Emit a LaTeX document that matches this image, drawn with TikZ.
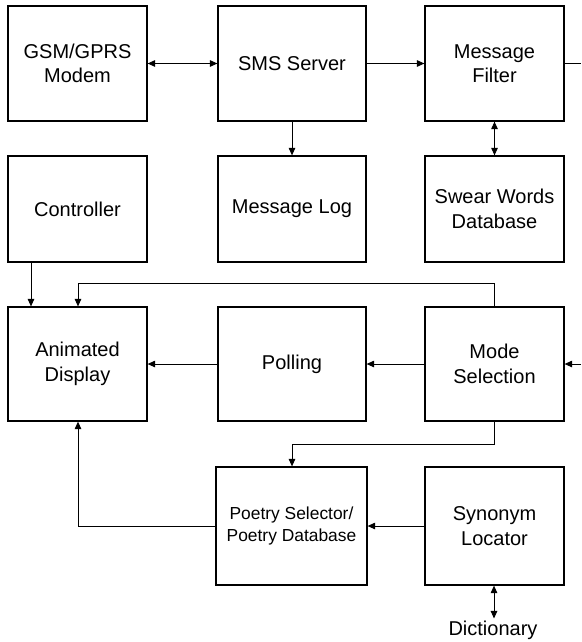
\documentclass[tikz,border=0pt]{standalone}
\usepackage{fontspec}
\setmainfont{Liberation Sans}
\usetikzlibrary{arrows.meta,calc}
\begin{document}
\begin{tikzpicture}[x=1pt,y=-1pt,
  blk/.style={draw,line width=1.2pt,align=center,inner sep=0pt,font=\fontsize{20}{24.5}\selectfont},
  conn/.style={line width=1pt},
  tip/.style={-{Triangle[length=7.5pt,width=6.5pt]}},
  dtip/.style={{Triangle[length=7.5pt,width=6.5pt]}-{Triangle[length=7.5pt,width=6.5pt]}}]
\useasboundingbox (0,0) rectangle (581,642);
% row 1
\node[blk,minimum width=139,minimum height=115] (gsm) at (77.5,63.5) {GSM/GPRS\\Modem};
\node[blk,minimum width=148,minimum height=115] (sms) at (292,63.5) {SMS Server};
\node[blk,minimum width=139,minimum height=115] (filt) at (494.5,63.5) {Message\\Filter};
% row 2
\node[blk,minimum width=139,minimum height=106] (ctrl) at (77.5,209) {Controller};
\node[blk,minimum width=148,minimum height=106] (log) at (292,209) {Message Log};
\node[blk,minimum width=139,minimum height=106] (swear) at (494.5,209) {Swear Words\\Database};
% row 3
\node[blk,minimum width=139,minimum height=114] (anim) at (77.5,364) {Animated\\Display};
\node[blk,minimum width=148,minimum height=114] (poll) at (292,364) {Polling};
\node[blk,minimum width=139,minimum height=114] (mode) at (494.5,364) {Mode\\Selection};
% row 4
\node[blk,minimum width=151,minimum height=118,font=\fontsize{17.4}{22}\selectfont] (poet) at (291.5,526) {Poetry Selector/\\Poetry Database};
\node[blk,minimum width=139,minimum height=118] (syn) at (494.5,526) {Synonym\\Locator};
\node[font=\fontsize{20}{24}\selectfont,inner sep=2pt] (dict) at (493,630) {Dictionary};
% coordinates
\coordinate (outR) at (581,63.5);
\coordinate (inR) at (581,364);
% connectors
\draw[conn,dtip] (gsm.east) -- (sms.west);
\draw[conn,tip] (sms.east) -- (filt.west);
\draw[conn] (filt.east) -- (outR);
\draw[conn,tip] (sms.south) -- (log.north);
\draw[conn,dtip] (filt.south) -- (swear.north);
\draw[conn,tip] (ctrl.south -| 31,0) -- (anim.north -| 31,0);
\draw[conn,tip] (mode.north -| 494,0) -- (494,283) -- (78,283) -- (anim.north -| 78,0);
\draw[conn,tip] (inR) -- (mode.east);
\draw[conn,tip] (mode.west) -- (poll.east);
\draw[conn,tip] (poll.west) -- (anim.east);
\draw[conn,tip] (mode.south -| 494,0) -- (494,444) -- (292,444) -- (poet.north -| 292,0);
\draw[conn,tip] (syn.west) -- (poet.east);
\draw[conn,tip] (poet.west) -- (poet.west -| 78,0) -- (anim.south -| 78,0);
\draw[conn,dtip] (syn.south -| 494,0) -- (dict.north -| 494,0);
\end{tikzpicture}
\end{document}
